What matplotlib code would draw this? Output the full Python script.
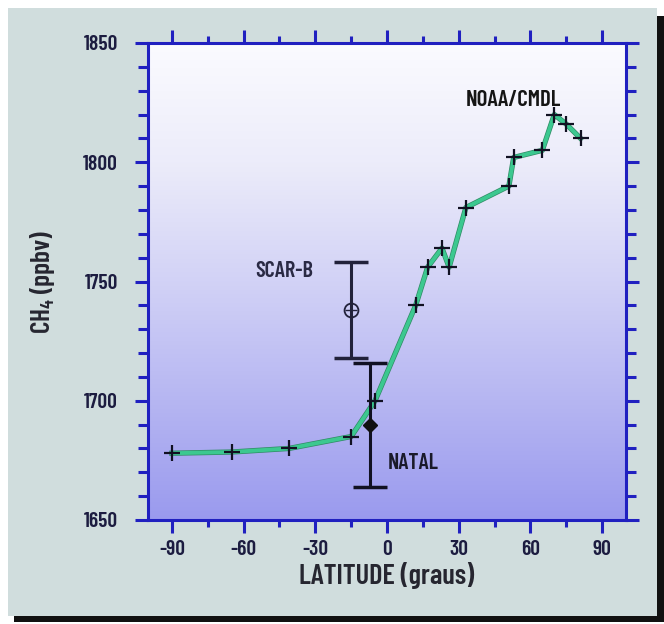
import numpy as np
import matplotlib
matplotlib.use('Agg')
import matplotlib.pyplot as plt
import matplotlib.patheffects as pe
from matplotlib.patches import Rectangle
from matplotlib.colors import LinearSegmentedColormap

# NOAA/CMDL latitudinal profile
lat = [-90, -65, -41, -15, -5, 12, 17, 23, 26, 33, 51, 53, 65, 70, 75, 81]
ch4 = [1678, 1678.5, 1680, 1685, 1700, 1740, 1756, 1764, 1756, 1781, 1790, 1802, 1805, 1820, 1816, 1810]

# campaign values with error bars
scar_lat, scar_ch4, scar_err = -15, 1738, 20
natal_lat, natal_ch4, natal_err = -7, 1690, 26

xticks = [-90, -60, -30, 0, 30, 60, 90]
yticks = [1650, 1700, 1750, 1800, 1850]

plt.rcParams['font.family'] = ['Barlow Condensed', 'DejaVu Sans']
plt.rcParams['font.weight'] = 600
plt.rcParams['axes.labelweight'] = 600
plt.rcParams['mathtext.fontset'] = 'custom'
plt.rcParams['mathtext.rm'] = 'Barlow Condensed:semibold'
plt.rcParams['mathtext.bf'] = 'Barlow Condensed:semibold'
plt.rcParams['mathtext.it'] = 'Barlow Condensed:semibold'

fig = plt.figure(figsize=(6.64, 6.24), dpi=100)
fig.patch.set_facecolor('white')

# panel with dark shadow
fig.patches.append(Rectangle((14 / 664, 2 / 624), 650 / 664, 606 / 624, transform=fig.transFigure,
                             facecolor='#111111', edgecolor='none', zorder=-10))
fig.patches.append(Rectangle((8 / 664, 8 / 624), 649 / 664, 608 / 624, transform=fig.transFigure,
                             facecolor='#d0dddd', edgecolor='none', zorder=-9))

ax = fig.add_axes([148 / 664, 104 / 624, 478 / 664, 477 / 624])
ax.set_xlim(-100, 100)
ax.set_ylim(1650, 1850)

# background gradient
grad = LinearSegmentedColormap.from_list('bg', ['#9a9aee', '#b6b6f2', '#d2d2f6', '#ececfa', '#fbfbff'])
ax.imshow(np.linspace(0, 1, 256).reshape(-1, 1), aspect='auto', cmap=grad, origin='lower',
          extent=[-100, 100, 1650, 1850], zorder=0)

ax.plot(lat, ch4, color='#3cc890', lw=2.8, zorder=3,
        path_effects=[pe.Stroke(linewidth=3.8, foreground='#2f8a64'), pe.Normal()])
ax.plot(lat, ch4, ls='none', marker='+', ms=11, mew=1.6, color='#111122', zorder=4)

ax.errorbar(scar_lat, scar_ch4, yerr=scar_err, fmt='none', ecolor='#22223a', elinewidth=2.2,
            capsize=12.5, capthick=2.5, zorder=5)
ax.plot(scar_lat, scar_ch4, marker='o', ms=10, mfc='none', mec='#22223a', mew=1.3, zorder=6)
ax.plot(scar_lat, scar_ch4, marker='+', ms=8, mew=1, color='#22223a', zorder=6)

ax.errorbar(natal_lat, natal_ch4, yerr=natal_err, fmt='none', ecolor='#111122', elinewidth=2.2,
            capsize=12, capthick=2.5, zorder=5)
ax.plot(natal_lat, natal_ch4, marker='D', ms=7, color='#111111', zorder=6)

ax.text(-31, 1754.5, 'SCAR-B', ha='right', va='center', fontsize=16, color='#2a2a44')
ax.text(0.5, 1674, 'NATAL', ha='left', va='center', fontsize=16, color='#1a1a2a')
ax.text(33, 1826, 'NOAA/CMDL', ha='left', va='center', fontsize=16.5, color='#151515')

spine_c = '#2020c0'
for s in ax.spines.values():
    s.set_color(spine_c)
    s.set_linewidth(2.2)

ax.set_xticks(xticks)
ax.set_yticks(yticks)
ax.set_xticks(np.arange(-75, 100, 30), minor=True)
ax.set_yticks(np.arange(1650, 1851, 10), minor=True)
ax.tick_params(which='both', direction='out', top=True, right=True, color=spine_c, width=2.2)
ax.tick_params(axis='x', which='major', length=9.5, pad=5)
ax.tick_params(axis='x', which='minor', length=5)
ax.tick_params(axis='y', which='major', length=9.5, pad=12)
ax.tick_params(axis='y', which='minor', length=7)
ax.tick_params(labelsize=15.5, labelcolor='#1c1c40')
ax.set_xticklabels([str(v) for v in xticks])

ax.set_xlabel('LATITUDE (graus)', fontsize=20.5, color='#262630', labelpad=2)
ax.set_ylabel(r'CH$_{\mathrm{4}}$ (ppbv)', fontsize=19.5, color='#262630', labelpad=19)

fig.savefig('out.png', dpi=100)
